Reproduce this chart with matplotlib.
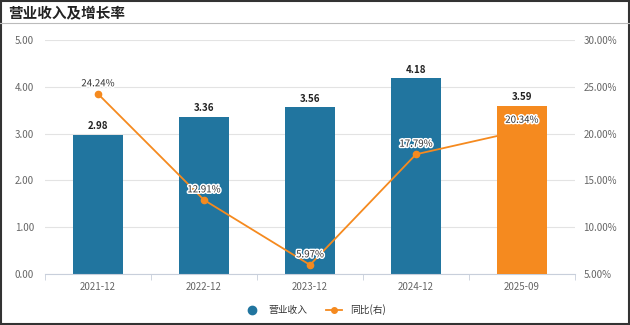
import matplotlib
matplotlib.use("Agg")
import matplotlib.pyplot as plt
import matplotlib.patheffects as pe
from matplotlib.lines import Line2D
import numpy as np

plt.rcParams['font.family'] = ['Noto Sans CJK SC', 'DejaVu Sans']

# ─── Data ─────────────────────────────────────────────────────────────────────
periods = ["2021-12", "2022-12", "2023-12", "2024-12", "2025-09"]
revenue = [2.98, 3.36, 3.56, 4.18, 3.59]
yoy_pct = [24.24, 12.91, 5.97, 17.79, 20.34]

title = "营业收入及增长率"
bar_name = "营业收入"
line_name = "同比(右)"

BLUE = "#21759f"
ORANGE = "#f58a1f"
GRID = "#e3e3e3"
TICK = "#666666"

fig = plt.figure(figsize=(6.3, 3.25), dpi=100)
ax = fig.add_axes([45 / 630, 1 - 274 / 325, 530 / 630, 234 / 325])
ax2 = ax.twinx()

x = np.arange(len(periods))
colors = [BLUE] * (len(periods) - 1) + [ORANGE]

ax.set_zorder(1)
ax.patch.set_visible(False)
ax2.set_zorder(0)

# bars (last one redrawn above the line later)
ax.bar(x, revenue, width=0.48, color=colors, zorder=2)
for xi, v in zip(x, revenue):
    ax.text(xi, v + 0.08, f"{v:.2f}", ha="center", va="bottom",
            fontsize=7, fontweight="bold", color="#222222", zorder=5)

# right-axis values drawn on the left axes so the last bar can cover the line
ax2.set_ylim(5, 30)
ax.set_ylim(0, 5)
to_left = lambda p: (p - 5) / 25 * 5
ly = [to_left(p) for p in yoy_pct]
ax.plot(x, ly, color=ORANGE, lw=1.3, zorder=3)
ax.plot(x[:-1], ly[:-1], "o", color=ORANGE, ms=4.5, zorder=3)
ax.bar(x[-1:], revenue[-1:], width=0.48, color=ORANGE, zorder=4)
for xi, yv, p in zip(x, ly, yoy_pct):
    ax.text(xi, yv + 0.12, f"{p:.2f}%", ha="center", va="bottom", fontsize=7,
            color="#333333", zorder=6,
            path_effects=[pe.withStroke(linewidth=2.2, foreground="white")])

# axes styling
ax.set_xlim(-0.5, len(periods) - 0.5)
ax.set_yticks(np.arange(0, 5.01, 1))
ax.set_yticklabels([f"{v:.2f}" for v in np.arange(0, 5.01, 1)])
ax2.set_yticks(np.arange(5, 30.01, 5))
ax2.set_yticklabels([f"{v:.2f}%" for v in np.arange(5, 30.01, 5)])
ax.set_xticks(x)
ax.set_xticklabels(periods)
ax.set_xticks(np.arange(-0.5, len(periods), 1), minor=True)
ax.tick_params(axis="x", which="major", length=0, pad=6, labelsize=7, labelcolor=TICK)
ax.tick_params(axis="x", which="minor", length=4, color="#c8cfdb")
ax.tick_params(axis="y", length=0, labelsize=7, labelcolor=TICK, pad=8)
ax2.tick_params(axis="y", length=0, labelsize=7, labelcolor=TICK, pad=6)
ax.grid(axis="y", color=GRID, lw=0.8, zorder=0)
ax.set_axisbelow(True)
for a in (ax, ax2):
    for s in a.spines.values():
        s.set_visible(False)
ax.spines["bottom"].set_visible(True)
ax.spines["bottom"].set_color("#c8cfdb")

# title and frame
fig.text(8 / 630, 1 - 12 / 325, title, fontsize=10.5, fontweight="bold",
         color="#222222", va="center", ha="left")
fig.add_artist(Line2D([0, 1], [1 - 23 / 325] * 2, color="#bbbbbb", lw=0.8))
fig.add_artist(plt.Rectangle((0.001, 0.002), 0.997, 0.996, fill=False,
                             edgecolor="#333333", lw=1.5))

# legend
handles = [
    Line2D([], [], marker="o", ls="none", color=BLUE, ms=6),
    Line2D([], [], marker="o", color=ORANGE, ms=4, lw=1.3),
]
fig.legend(handles, [bar_name, line_name], loc="center", ncol=2,
           bbox_to_anchor=(0.5, 1 - 310 / 325), frameon=False, fontsize=7,
           handlelength=1.6, columnspacing=2, labelcolor="#333333")

fig.savefig("out.png", dpi=100)
